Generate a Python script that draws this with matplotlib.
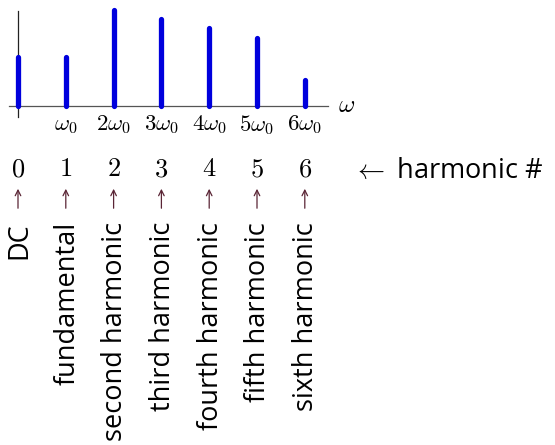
import numpy as np
import matplotlib.pyplot as plt

plt.rcParams['mathtext.fontset'] = 'cm'

# harmonic amplitudes (relative to the tallest line)
harmonics = [0, 1, 2, 3, 4, 5, 6]
amplitude = [0.51, 0.51, 1.0, 0.91, 0.81, 0.71, 0.27]
tick_labels = ['', r'$\omega_0$', r'$2\omega_0$', r'$3\omega_0$', r'$4\omega_0$',
               r'$5\omega_0$', r'$6\omega_0$']
names = ['DC', 'fundamental', 'second harmonic', 'third harmonic',
         'fourth harmonic', 'fifth harmonic', 'sixth harmonic']

fig = plt.figure(figsize=(5.55, 4.45), dpi=100)
ax = fig.add_axes([0, 0, 1, 1])
ax.axis('off')

# one harmonic step = 47.8 px, unit amplitude = 96 px
ax.set_xlim(-18 / 47.8, (555 - 18) / 47.8)
ax.set_ylim(-(445 - 106) / 96, 106 / 96)

def py(p):
    # pixel row -> data y
    return (106 - p) / 96

sans = ['Open Sans', 'DejaVu Sans']

# axes lines
ax.plot([-0.19, 6.48], [0, 0], color='#555555', lw=0.9)
ax.plot([0, 0], [py(117), py(11)], color='#222222', lw=0.9)
ax.text(6.88, py(105), r'$\omega$', fontsize=18, ha='center', va='center')

for h, a in zip(harmonics, amplitude):
    ax.plot([h, h], [0, a], color='#0000dd', lw=3.8, solid_capstyle='round')

for h, lab in zip(harmonics, tick_labels):
    ax.text(h, py(113), lab, fontsize=16.5, ha='center', va='top')

for h, name in zip(harmonics, names):
    ax.text(h, py(169), r'$%d$' % h, fontsize=19, ha='center', va='center')
    ax.annotate('', xy=(h, py(186)), xytext=(h, py(211)),
                arrowprops=dict(arrowstyle='->', color='#5a2535', lw=0.9))
    ax.text(h + 0.03, py(222), name, fontsize=19.5, family=sans,
            rotation=90, ha='center', va='top')

ax.text(7.0, py(178), r'$\leftarrow$ harmonic #', fontsize=19.5,
        family=sans, ha='left', va='baseline')

fig.savefig('out.png', dpi=100)
